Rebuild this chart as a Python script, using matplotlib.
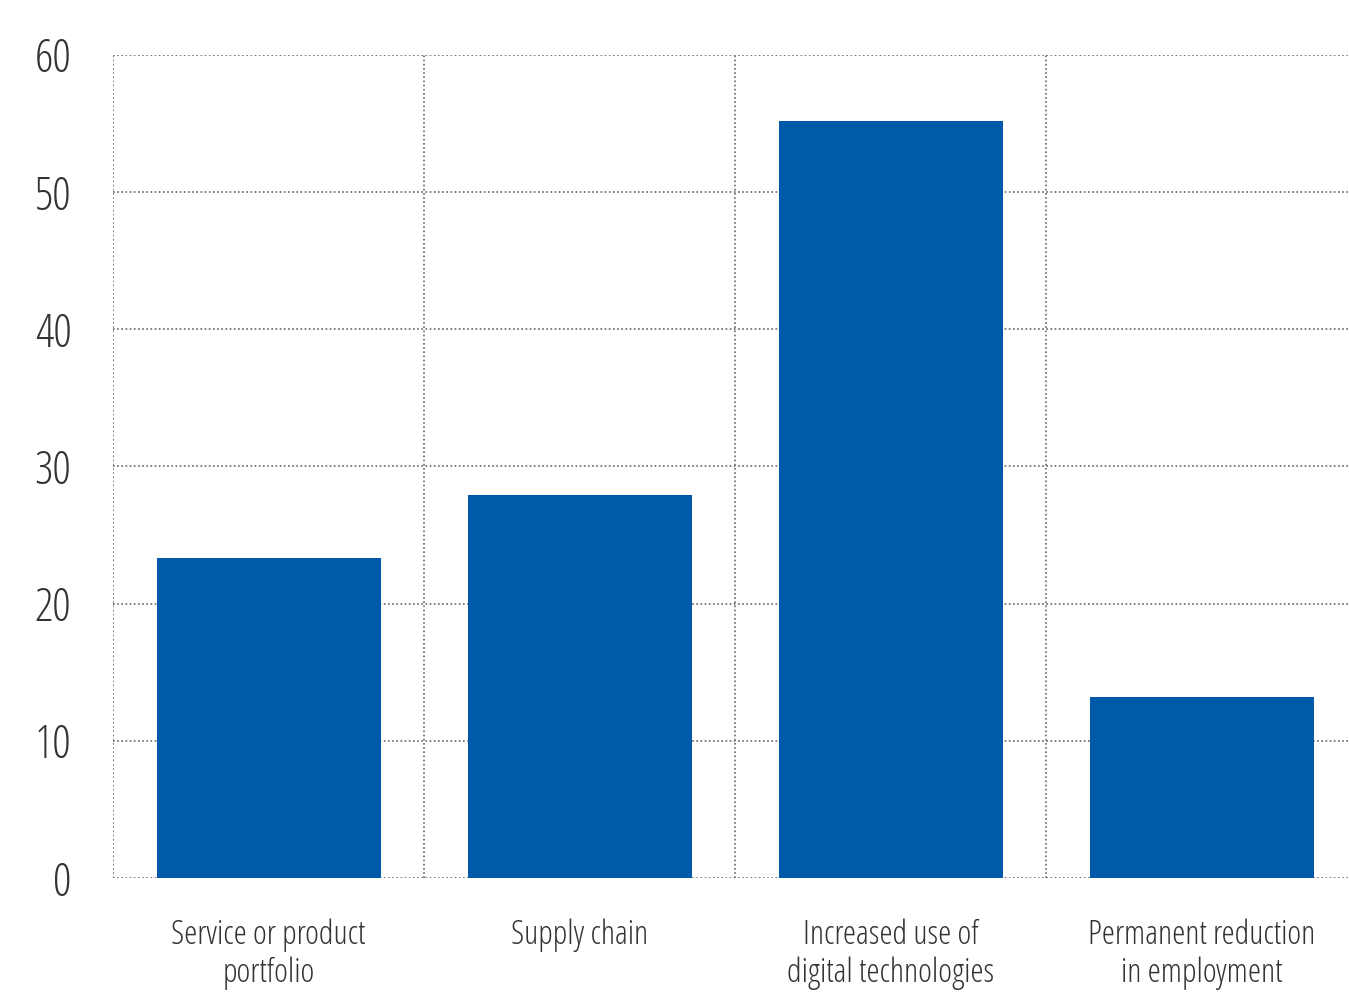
import matplotlib.pyplot as plt

categories = ["Service or product\nportfolio", "Supply chain",
              "Increased use of\ndigital technologies", "Permanent reduction\nin employment"]
values = [23.3, 27.9, 55.2, 13.2]
yticks = [0, 10, 20, 30, 40, 50, 60]

plt.rcParams["font.family"] = ["Open Sans", "DejaVu Sans"]
plt.rcParams["font.stretch"] = "condensed"
plt.rcParams["font.weight"] = 300

fig = plt.figure(figsize=(13.49, 9.92), dpi=100)
ax = fig.add_axes([0.0838, 0.1149, 0.9222, 0.8297])

x = range(len(values))
ax.bar(x, values, width=0.72, color="#005aa9", zorder=3)

ax.set_xlim(-0.5, 3.5)
ax.set_ylim(0, 60)
ax.set_yticks(yticks)
ax.set_yticklabels([str(v) for v in yticks], fontsize=33, color="#333333")
ax.set_xticks([0, 1, 2, 3])
ax.set_xticklabels(categories, fontsize=24, color="#333333", linespacing=1.2)
ax.tick_params(axis="y", length=0, pad=30)
ax.tick_params(axis="x", length=0, pad=29)

# dotted grid: horizontal at every tick, vertical between categories
for v in yticks:
    ax.axhline(v, color="#666666", lw=1.2, ls=(0, (1, 1.5)), zorder=1)
for b in [-0.5, 0.5, 1.5, 2.5]:
    ax.axvline(b, color="#666666", lw=1.2, ls=(0, (1, 1.5)), zorder=1)

for s in ax.spines.values():
    s.set_visible(False)

fig.savefig("out.png", dpi=100)
